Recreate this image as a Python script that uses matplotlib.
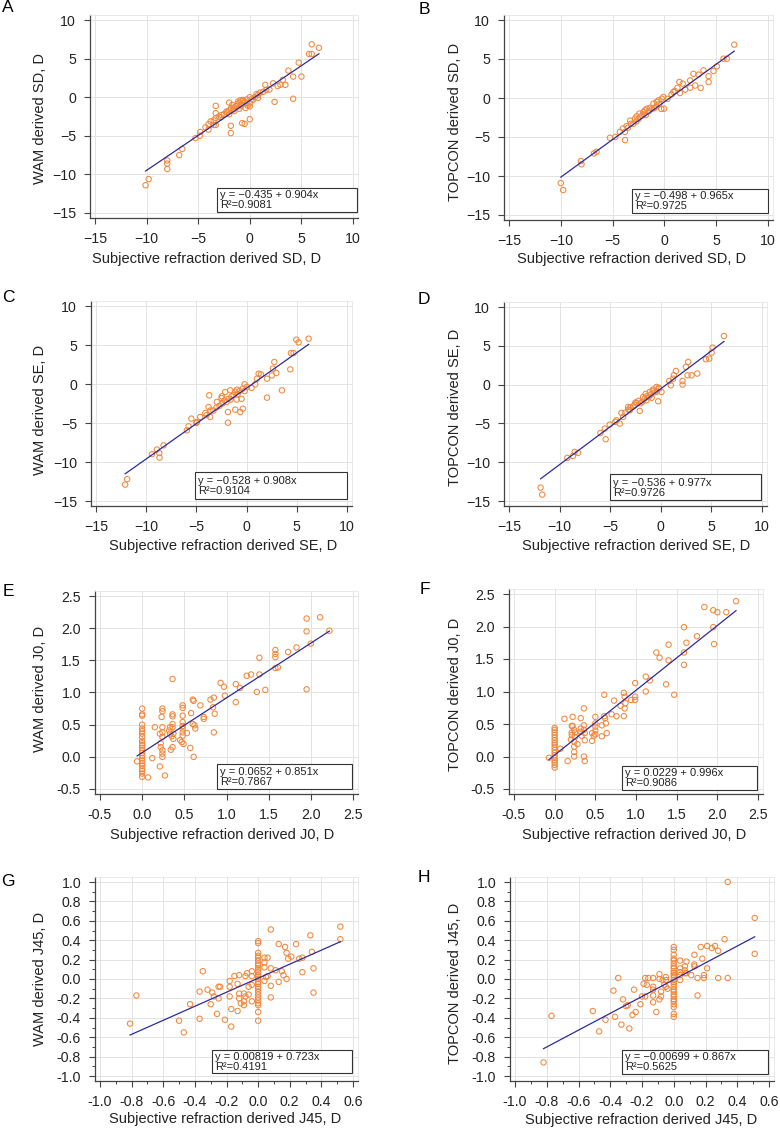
import matplotlib
matplotlib.use("Agg")
import matplotlib.pyplot as plt
from matplotlib.patches import Rectangle
from matplotlib.ticker import MultipleLocator, FormatStrFormatter

plt.rcParams['font.family'] = ['Liberation Sans', 'DejaVu Sans']

W, H = 780, 1132

# ---- data ----
a_x = [-10.1, -9.8, -8.0, -8.0, -8.0, -6.84, -6.55, -5.26, -4.84, -4.8, -4.3, -4.0, -3.8, -3.5, -3.3, -3.3,
       -3.3, -3.3, -2.74, -2.26, -2.0, -1.84, -1.84, -1.6, -1.3, -1.13, -1.0, -0.74, -0.5, -0.65, -0.3, 0.0,
       0.0, 0.0, 0.3, 0.65, 0.8, 1.3, 1.5, 1.6, 1.9, 2.26, 2.4, 2.7, 2.97, 3.2, 3.45, 3.74, 4.2, 4.2, 4.74,
       5.0, 5.74, 6.0, 6.0, 6.7, -2.5, -2.2, -2.0, -1.8, -1.5, -1.2, -1.0, -0.8, -0.7, -0.5, -0.3, -0.2, 0.0,
       0.2, 0.5, 0.8, 1.0, -3.0, -2.8, -3.5, -4.0, -1.5, -1.0, -2.0, -1.7, -0.9, -0.4]
a_y = [-11.4, -10.6, -8.2, -8.6, -9.3, -7.5, -6.7, -5.3, -5.0, -4.5, -3.9, -4.2, -3.15, -3.6, -1.12, -2.07,
       -2.7, -3.6, -2.3, -1.85, -0.7, -3.7, -4.65, -1.6, -1.1, -0.55, -1.2, -3.36, -3.45, -0.35, -0.8, 0.0,
       -1.2, -2.85, -0.35, 0.4, -0.1, 0.7, 1.6, 0.95, 1.0, 1.8, -0.6, 1.45, 1.6, 2.24, 1.6, 3.45, 2.67, -0.2,
       4.48, 2.67, 5.6, 5.6, 6.85, 6.4, -2.2, -2.0, -1.7, -1.4, -1.3, -0.9, -0.7, -1.0, -0.5, -0.6, -0.3, -1.1,
       -0.8, -0.2, 0.0, 0.3, 0.6, -2.5, -2.6, -3.0, -3.5, -1.8, -1.5, -2.2, -1.0, -0.4, -1.4]

b_x = [-10.0, -9.77, -8.06, -8.0, -6.8, -6.55, -5.26, -4.74, -4.3, -3.8, -3.8, -3.65, -3.3, -3.26, -2.84,
       -2.68, -2.42, -2.03, -1.87, -1.7, -1.39, -1.06, -0.74, -0.58, -0.26, -0.1, -0.03, 0.7, 0.87, 1.26,
       1.45, 1.5, 1.77, 2.0, 2.48, 2.48, 2.8, 2.97, 3.3, 3.5, 3.77, 4.26, 4.26, 4.74, 5.06, 5.7, 6.03, 6.74,
       -3.0, -2.5, -2.2, -2.0, -1.5, -1.2, -1.0, -0.8, -0.5, -0.3, -1.8, -2.7, 0.3, 1.0, -4.0, -3.5]
b_y = [-10.9, -11.8, -8.08, -8.5, -7.1, -6.9, -5.1, -5.0, -4.35, -5.4, -4.35, -3.6, -2.9, -3.3, -2.65,
       -2.35, -2.0, -1.8, -1.58, -1.37, -1.24, -0.73, -0.5, -0.3, -0.1, 0.13, -1.37, 0.47, 0.77, 1.3,
       2.05, 0.64, 1.84, 1.07, 2.26, 1.32, 3.1, 1.6, 3.0, 1.3, 3.55, 2.8, 2.05, 3.46, 4.06, 5.04, 5.04, 6.84,
       -3.3, -2.7, -2.3, -2.1, -1.7, -1.4, -1.3, -1.1, -0.8, -1.4, -2.2, -3.0, -0.1, 0.9, -3.9, -3.8]

c_x = [-12.1, -11.9, -9.43, -8.94, -8.7, -8.67, -8.27, -5.95, -5.78, -5.5, -4.95, -4.62, -4.12, -3.79, -3.72,
       -3.62, -2.96, -2.46, -2.13, -1.86, -1.86, -1.63, -1.13, -0.96, -0.63, -0.37, -0.2, 0.03, 0.86, 1.03,
       1.2, 1.43, 2.03, 2.03, 2.52, 2.62, 2.76, 2.96, 3.52, 4.35, 4.42, 4.68, 4.95, 5.18, 6.18,
       -3.3, -3.0, -2.7, -2.4, -2.2, -2.0, -1.8, -1.5, -1.3, -1.1, -0.9, -0.7, -0.5, -0.4, -0.2, -1.0, -3.6,
       -4.0, -2.5, -1.6, 0.5, -5.0]
c_y = [-12.9, -12.2, -9.0, -8.4, -8.85, -9.44, -7.86, -5.94, -5.43, -4.44, -4.87, -4.23, -3.72, -2.95, -1.45,
       -4.23, -2.3, -1.58, -1.03, -3.59, -4.96, -0.81, -3.29, -0.73, -3.59, -3.16, -0.04, -0.38, -0.04, 0.68,
       1.32, 1.24, -1.75, 0.68, 1.1, 1.97, 2.82, 1.41, -0.81, 1.88, 3.97, 3.97, 5.68, 5.34, 5.81,
       -3.4, -3.0, -2.8, -2.5, -2.1, -2.3, -1.9, -1.6, -1.4, -1.0, -1.3, -0.9, -1.9, -0.6, -0.9, -2.0, -3.4,
       -4.0, -1.8, -2.0, -0.5, -5.0]

d_x = [-11.88, -11.72, -9.24, -8.68, -8.51, -8.18, -5.97, -5.54, -5.45, -5.05, -4.39, -4.06, -3.89, -3.73,
       -3.23, -3.07, -2.41, -2.08, -1.75, -1.42, -1.09, -0.76, -0.43, -0.26, -0.17, 0.07, 0.83, 0.99, 1.22,
       1.29, 1.49, 2.15, 2.15, 2.48, 2.71, 2.64, 3.04, 3.6, 4.46, 4.79, 5.02, 5.12, 6.24,
       -3.5, -3.2, -3.0, -2.7, -2.5, -2.2, -2.0, -1.8, -1.6, -1.4, -1.2, -1.0, -0.8, -0.6, -0.4, -2.6, -4.5,
       -1.5, -0.9, -0.2]
d_y = [-13.27, -14.18, -9.45, -9.19, -8.68, -8.8, -6.23, -5.67, -7.04, -5.15, -4.6, -5.03, -3.65, -4.17,
       -2.88, -3.31, -2.36, -3.39, -1.59, -2.02, -0.95, -0.64, -0.3, -2.15, -0.52, -0.95, 0.47, -0.09, 0.77,
       1.2, 1.76, 0.47, 0.0, 2.28, 2.92, 1.2, 1.2, 1.42, 3.26, 3.35, 4.12, 4.77, 6.27,
       -3.6, -3.2, -2.9, -2.8, -2.3, -2.1, -2.4, -2.2, -1.8, -1.5, -1.6, -1.3, -0.8, -1.0, -0.9, -2.6, -4.8,
       -1.2, -1.7, -0.4]

e_x = [0.0] * 23 + [
    -0.06, 0.07, 0.12, 0.15, 0.21, 0.21, 0.22, 0.22, 0.23, 0.24, 0.24, 0.24, 0.24, 0.24, 0.24, 0.24, 0.24,
    0.27, 0.32, 0.33, 0.33, 0.35, 0.34, 0.36, 0.36, 0.36, 0.36, 0.36, 0.37, 0.37, 0.36, 0.45, 0.47, 0.48,
    0.48, 0.48, 0.48, 0.48, 0.48, 0.48, 0.48, 0.49, 0.53, 0.57, 0.58, 0.60, 0.61, 0.6, 0.62, 0.63, 0.61,
    0.69, 0.73, 0.73, 0.81, 0.84, 0.85, 0.85, 0.86, 0.93, 0.97, 0.98, 1.11, 1.11, 1.16, 1.24, 1.29, 1.36,
    1.39, 1.39, 1.46, 1.58, 1.58, 1.58, 1.58, 1.61, 1.73, 1.83, 1.95, 1.95, 1.95, 2.0, 2.11, 2.22]
e_y = [0.75, 0.66, 0.64, 0.50, 0.44, 0.40, 0.36, 0.31, 0.25, 0.21, 0.18, 0.14, 0.10, 0.06, 0.02, -0.02,
       -0.06, -0.10, -0.14, -0.19, -0.22, -0.26, -0.31,
       -0.07, -0.32, -0.02, 0.46, -0.15, 0.36, 0.21, 0.15, 0.62, 0.75, 0.71, 0.46, 0.38, 0.31, 0.10, 0.05,
       0.0, -0.29, 0.41, 0.46, 0.36, 0.32, 0.11, 1.21, 0.66, 0.63, 0.51, 0.46, 0.36, 0.28, 0.15, 0.26, 0.23,
       0.80, 0.76, 0.64, 0.54, 0.48, 0.44, 0.38, 0.33, 0.20, 0.37, 0.14, 0.68, 0.89, 0.87, 0.51, 0.49, 0.44,
       0.0, 0.8, 0.62, 0.59, 0.89, 0.77, 0.38, 0.92, 0.67, 1.15, 1.09, 0.95, 1.13, 0.85, 1.07, 1.26, 1.28,
       1.01, 1.54, 1.28, 1.04, 1.66, 1.60, 1.55, 1.38, 1.39, 1.63, 1.70, 2.15, 1.95, 1.05, 1.76, 2.17, 1.96]

f_x = [0.0] * 17 + [
    -0.07, 0.07, 0.12, 0.16, 0.2, 0.21, 0.21, 0.21, 0.22, 0.24, 0.24, 0.24, 0.24, 0.22, 0.24, 0.25, 0.25,
    0.28, 0.32, 0.32, 0.32, 0.33, 0.36, 0.36, 0.36, 0.37, 0.37, 0.36, 0.37, 0.46, 0.46, 0.48, 0.5, 0.5,
    0.5, 0.5, 0.5, 0.58, 0.58, 0.61, 0.61, 0.62, 0.63, 0.64, 0.70, 0.73, 0.76, 0.81, 0.85, 0.86, 0.86,
    0.85, 0.87, 0.94, 0.99, 0.99, 0.99, 1.12, 1.12, 1.17, 1.25, 1.29, 1.37, 1.40, 1.40, 1.47, 1.59, 1.59,
    1.59, 1.62, 1.75, 1.84, 1.95, 1.95, 1.96, 2.0, 2.11, 2.23]
f_y = [0.44, 0.41, 0.37, 0.33, 0.29, 0.25, 0.21, 0.18, 0.14, 0.10, 0.06, 0.02, -0.02, -0.06, -0.09, -0.13,
       -0.17,
       -0.02, 0.12, 0.58, -0.07, 0.26, 0.47, 0.37, 0.33, 0.61, 0.23, 0.15, 0.07, 0.0, 0.47, 0.41, 0.37, 0.30,
       0.19, 0.59, 0.43, 0.38, 0.32, 0.74, 0.48, 0.41, 0.36, 0.25, 0.0, -0.07, 0.24, 0.36, 0.32, 0.61, 0.51,
       0.46, 0.40, 0.34, 0.48, 0.31, 0.95, 0.62, 0.59, 0.51, 0.36, 0.65, 0.86, 0.62, 0.78, 0.98, 0.92, 0.74,
       0.62, 0.82, 0.87, 0.92, 0.87, 1.13, 1.23, 1.0, 1.17, 1.6, 1.52, 1.11, 1.72, 1.48, 0.95, 1.99, 1.6,
       1.41, 1.75, 1.85, 2.3, 2.25, 1.99, 1.73, 2.22, 2.22, 2.39]

g_x = [0.0] * 26 + [
    -0.81, -0.77, -0.5, -0.47, -0.43, -0.37, -0.37, -0.35, -0.32, -0.3, -0.29, -0.28, -0.26, -0.25, -0.24,
    -0.25, -0.21, -0.18, -0.18, -0.18, -0.17, -0.17, -0.15, -0.13, -0.12, -0.12, -0.13, -0.12, -0.11,
    -0.09, -0.08, -0.09, -0.09, -0.08, -0.07, -0.06, -0.06, -0.04, -0.04, -0.04, -0.04, 0.04, 0.04, 0.04,
    0.05, 0.04, 0.06, 0.06, 0.08, 0.08, 0.08, 0.08, 0.11, 0.13, 0.13, 0.15, 0.16, 0.17, 0.18, 0.18, 0.19,
    0.21, 0.24, 0.26, 0.28, 0.28, 0.33, 0.34, 0.35, 0.35, 0.52, 0.52]
g_y = [0.39, 0.37, 0.27, 0.24, 0.22, 0.19, 0.16, 0.14, 0.11, 0.09, 0.07, 0.04, 0.02, 0.0, -0.03, -0.05,
       -0.08, -0.1, -0.13, -0.16, -0.19, -0.22, -0.25, -0.27, -0.34, -0.43,
       -0.46, -0.17, -0.43, -0.55, -0.26, -0.13, -0.41, 0.08, -0.11, -0.26, -0.14, -0.18, -0.36, -0.08,
       -0.08, -0.2, -0.42, -0.08, -0.18, -0.02, -0.31, -0.49, 0.03, -0.05, -0.15, -0.2, -0.33, 0.04, -0.25,
       -0.15, -0.18, -0.23, -0.27, 0.03, 0.06, -0.08, -0.16, 0.08, 0.03, -0.06, -0.23, 0.22, 0.17, 0.12,
       0.02, -0.02, 0.22, 0.03, 0.51, 0.11, -0.07, -0.19, 0.09, 0.36, -0.03, 0.08, 0.04, 0.33, 0.27, 0.0,
       0.21, 0.23, 0.36, 0.21, 0.22, 0.07, 0.45, 0.28, 0.11, -0.14, 0.54, 0.41]

h_x = [0.0] * 26 + [
    -0.82, -0.77, -0.51, -0.47, -0.43, -0.38, -0.37, -0.35, -0.33, -0.32, -0.30, -0.28, -0.29, -0.26,
    -0.25, -0.24, -0.21, -0.2, -0.19, -0.18, -0.18, -0.17, -0.16, -0.13, -0.13, -0.13, -0.13, -0.13,
    -0.11, -0.09, -0.09, -0.08, -0.08, -0.09, -0.07, -0.06, -0.05, -0.05, -0.05, -0.04, 0.04, 0.04, 0.04,
    0.04, 0.04, 0.07, 0.07, 0.07, 0.08, 0.08, 0.11, 0.13, 0.13, 0.13, 0.15, 0.15, 0.17, 0.18, 0.19, 0.19,
    0.21, 0.21, 0.24, 0.26, 0.28, 0.28, 0.32, 0.34, 0.34, 0.51, 0.51]
h_y = [0.33, 0.30, 0.25, 0.21, 0.19, 0.16, 0.13, 0.11, 0.08, 0.06, 0.04, 0.02, -0.01, -0.03, -0.05, -0.08,
       -0.11, -0.13, -0.16, -0.18, -0.21, -0.23, -0.26, -0.29, -0.36, -0.39,
       -0.86, -0.38, -0.33, -0.54, -0.42, -0.12, -0.39, 0.01, -0.47, -0.21, -0.28, -0.51, -0.27, -0.37,
       -0.11, -0.34, -0.26, -0.18, -0.05, 0.01, -0.18, -0.06, 0.01, 0.01, -0.08, -0.24, -0.11, -0.17, -0.34,
       0.05, 0.0, -0.13, -0.18, -0.21, -0.01, -0.06, 0.02, -0.01, -0.08, -0.1, 0.19, 0.11, 0.07, 0.04, -0.01,
       0.13, 0.09, 0.06, 0.18, 0.06, 0.04, 0.25, 0.15, 0.13, 0.01, -0.17, 0.33, 0.21, 0.04, 0.01, 0.11, 0.34,
       0.32, 0.34, 0.29, 0.01, 0.41, 1.0, 0.01, 0.63, 0.26]

panel_letters = ['A', 'B', 'C', 'D', 'E', 'F', 'G', 'H']
xlabels = ['Subjective refraction derived SD, D', 'Subjective refraction derived SD, D',
           'Subjective refraction derived SE, D', 'Subjective refraction derived SE, D',
           'Subjective refraction derived J0, D', 'Subjective refraction derived J0, D',
           'Subjective refraction derived J45, D', 'Subjective refraction derived J45, D']
ylabels = ['WAM derived SD, D', 'TOPCON derived SD, D', 'WAM derived SE, D', 'TOPCON derived SE, D',
           'WAM derived J0, D', 'TOPCON derived J0, D', 'WAM derived J45, D', 'TOPCON derived J45, D']
intercepts = [-0.435, -0.498, -0.528, -0.536, 0.0652, 0.0229, 0.00819, -0.00699]
slopes = [0.904, 0.965, 0.908, 0.977, 0.851, 0.996, 0.723, 0.867]
eq_text = ['y = \u22120.435 + 0.904x', 'y = \u22120.498 + 0.965x', 'y = \u22120.528 + 0.908x',
           'y = \u22120.536 + 0.977x', 'y = 0.0652 + 0.851x', 'y = 0.0229 + 0.996x',
           'y = 0.00819 + 0.723x', 'y = \u22120.00699 + 0.867x']
r2_text = ['0.9081', '0.9725', '0.9104', '0.9726', '0.7867', '0.9086', '0.4191', '0.5625']
xs = [a_x, b_x, c_x, d_x, e_x, f_x, g_x, h_x]
ys = [a_y, b_y, c_y, d_y, e_y, f_y, g_y, h_y]

# ---- layout (pixels) ----
rng_sd = (-15, 10, 5)
rng_j0 = (-0.5, 2.5, 0.5)
rng_j45 = (-1.0, 0.6, 0.2)
x_rng = [rng_sd, rng_sd, rng_sd, rng_sd, rng_j0, rng_j0, rng_j45, rng_j45]
y_rng = [rng_sd, rng_sd, rng_sd, rng_sd, rng_j0, rng_j0, (-1.0, 1.0, 0.2), (-1.0, 1.0, 0.2)]
x_px = [(95, 353), (509, 768), (96, 347), (509, 762), (100, 353), (514, 758), (100, 353), (515, 769)]
y_px = [(20, 213), (20, 215), (306, 501), (307, 501), (596, 789), (594, 789), (882, 1076), (882, 1076)]
letter_px = [(8, 8), (424, 9), (8, 298), (424, 299), (8, 591), (425, 589), (8, 881), (424, 878)]
xlab_px = [(207, 259), (632, 259), (223, 546), (636, 546), (222, 835), (634, 835), (225, 1119), (641, 1120)]
ylab_px = [(40, 118), (455, 122), (40, 410), (455, 407), (40, 689), (455, 694), (40, 979), (455, 983)]
box_px = [(217, 188, 357, 212), (632, 189, 768, 213), (195, 472, 347, 499), (610, 474, 761, 500),
          (217, 764, 352, 789), (622, 766, 757, 790), (212, 1050, 352, 1073), (622, 1050, 768, 1074)]
PAD = 5

ORANGE = '#f2873c'
NAVY = '#2b2ba0'


def fx(px):
    return px / W


def fy(py):
    return 1 - py / H


fig = plt.figure(figsize=(W / 100, H / 100), dpi=100)

for i in range(8):
    xmin, xmax, xstep = x_rng[i]
    ymin, ymax, ystep = y_rng[i]
    x0, x1 = x_px[i]
    y0, y1 = y_px[i]
    sx = (xmax - xmin) / (x1 - x0)
    sy = (ymax - ymin) / (y1 - y0)
    L, R, T, B = x0 - PAD, x1 + PAD, y0 - PAD, y1 + PAD
    ax = fig.add_axes([fx(L), fy(B), (R - L) / W, (B - T) / H])
    ax.set_xlim(xmin - PAD * sx, xmax + PAD * sx)
    ax.set_ylim(ymin - PAD * sy, ymax + PAD * sy)

    ax.xaxis.set_major_locator(MultipleLocator(xstep))
    ax.yaxis.set_major_locator(MultipleLocator(ystep))
    if i >= 4:
        ax.xaxis.set_major_formatter(FormatStrFormatter('%.1f'))
        ax.yaxis.set_major_formatter(FormatStrFormatter('%.1f'))
    if i >= 6:
        ax.xaxis.set_minor_locator(MultipleLocator(0.1))
        ax.yaxis.set_minor_locator(MultipleLocator(0.1))

    ax.grid(True, which='major', color='#e3e3e3', linewidth=0.7)
    ax.set_axisbelow(True)
    for s in ['top', 'right']:
        ax.spines[s].set_color('#e6e6e6')
        ax.spines[s].set_linewidth(0.6)
    for s in ['left', 'bottom']:
        ax.spines[s].set_color('#444444')
        ax.spines[s].set_linewidth(0.9)
    ax.tick_params(which='major', direction='out', length=4.5, width=0.8, color='#444444',
                   labelsize=10.2, pad=5.5, labelcolor='#222222')
    ax.tick_params(which='minor', direction='out', length=2.5, width=0.7, color='#444444')
    ax.tick_params(axis='x', top=False)
    ax.tick_params(axis='y', right=False)

    ax.scatter(xs[i], ys[i], s=15, facecolors='none', edgecolors=ORANGE, linewidths=0.75, zorder=3)
    lx = [min(xs[i]), max(xs[i])]
    ly = [intercepts[i] + slopes[i] * v for v in lx]
    ax.plot(lx, ly, color=NAVY, linewidth=0.9, zorder=4)

    ax.set_xlabel(xlabels[i], fontsize=10.5, color='#222222')
    ax.set_ylabel(ylabels[i], fontsize=10.5, color='#222222')
    ax.xaxis.set_label_coords(fx(xlab_px[i][0]), fy(xlab_px[i][1]), transform=fig.transFigure)
    ax.yaxis.set_label_coords(fx(ylab_px[i][0]), fy(ylab_px[i][1]), transform=fig.transFigure)
    ax.xaxis.label.set_va('center')
    ax.yaxis.label.set_va('center')

    # regression summary box
    bx0, by0, bx1, by1 = box_px[i]
    fig.patches.append(Rectangle((fx(bx0), fy(by1)), (bx1 - bx0) / W, (by1 - by0) / H,
                                 transform=fig.transFigure, facecolor='white', edgecolor='#333333',
                                 linewidth=0.8, zorder=5))
    fig.text(fx(bx0 + 3), fy((by0 + by1) / 2 + 0.5), eq_text[i] + '\nR\u00b2=' + r2_text[i],
             fontsize=8.0, va='center', ha='left', linespacing=1.0, color='#222222', zorder=6)

    fig.text(fx(letter_px[i][0]), fy(letter_px[i][1]), panel_letters[i], fontsize=12.5,
             ha='center', va='center', color='black')

fig.savefig('out.png', dpi=100)
